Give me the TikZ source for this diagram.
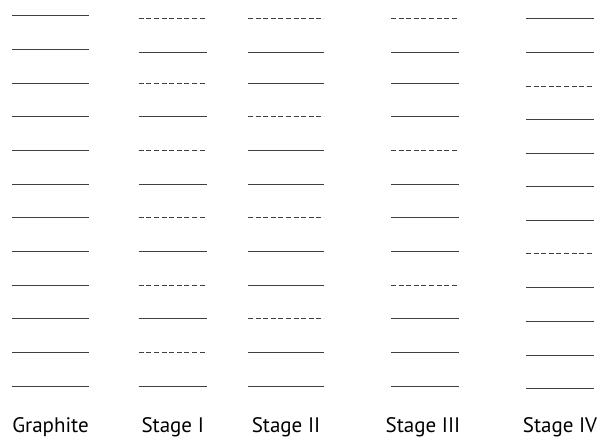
\documentclass[tikz,border=0pt]{standalone}
\usepackage{fontspec}
\setmainfont{PT Sans}
\begin{document}
\begin{tikzpicture}[x=1pt,y=-1pt,
  lay/.style={line width=0.95pt, draw=black!75},
  gap/.style={lay, dash pattern=on 5pt off 2.6pt},
  lbl/.style={anchor=base, font=\fontsize{21}{23}\selectfont, text=black}]
\useasboundingbox (0,0) rectangle (603,440);
% Graphite
\foreach \y in {15,49,83,116,150,184,217,251,285,318,352,386}
  \draw[lay] (12.3,\y) -- (88.7,\y);
% Stage I
\foreach \y/\s in {18/gap,52/lay,83/gap,116/lay,150/gap,184/lay,217/gap,251/lay,285/gap,318/lay,352/gap,386/lay}
  \draw[\s] (138.7,\y) -- (206.7,\y);
% Stage II
\foreach \y/\s in {18/gap,52/lay,83/lay,116/gap,150/lay,184/lay,217/gap,251/lay,285/lay,318/gap,352/lay,386/lay}
  \draw[\s] (248,\y) -- (324,\y);
% Stage III
\foreach \y/\s in {18/gap,52/lay,83/lay,116/lay,150/gap,184/lay,217/lay,251/lay,285/gap,318/lay,352/lay,386/lay}
  \draw[\s] (391,\y) -- (459,\y);
% Stage IV
\foreach \y/\s in {18/lay,52/lay,86/gap,119/lay,153/lay,186/lay,220/lay,253/gap,287/lay,321/lay,355/lay,388/lay}
  \draw[\s] (526,\y) -- (593.7,\y);
% labels
\node[lbl] (lg) at (50.5,432.5) {Graphite};
\node[lbl] (l1) at (172.7,432.5) {Stage I};
\node[lbl] (l2) at (286,432.5) {Stage II};
\node[lbl] (l3) at (423,432.5) {Stage III};
\node[lbl] (l4) at (560,432.5) {Stage IV};
\end{tikzpicture}
\end{document}
